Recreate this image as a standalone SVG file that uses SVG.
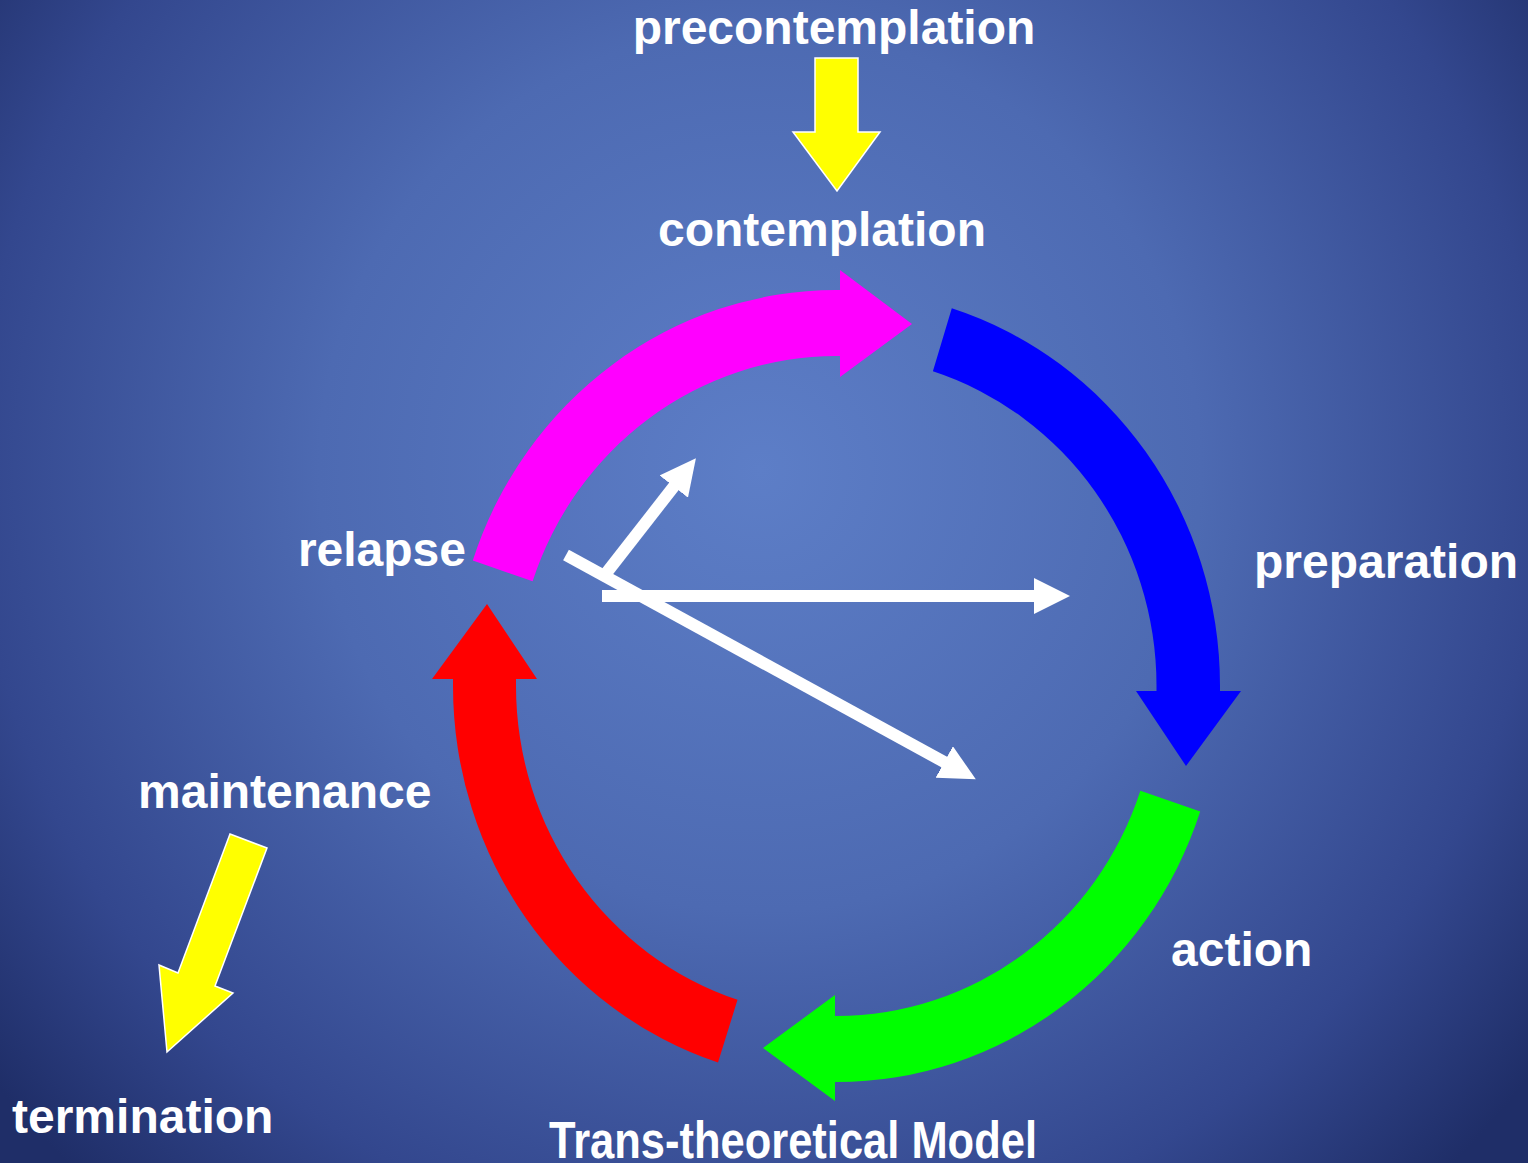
<svg xmlns="http://www.w3.org/2000/svg" width="1528" height="1163" viewBox="0 0 1528 1163">
  <defs>
    <radialGradient id="bg" cx="760" cy="470" r="980" gradientUnits="userSpaceOnUse">
      <stop offset="0" stop-color="#5d7ec7"/>
      <stop offset="0.45" stop-color="#4d6ab2"/>
      <stop offset="0.8" stop-color="#33478e"/>
      <stop offset="1" stop-color="#1f2e68"/>
    </radialGradient>
    <marker id="wh" viewBox="0 0 36 36" markerWidth="36" markerHeight="36" markerUnits="userSpaceOnUse" refX="2" refY="18" orient="auto">
      <path d="M0,0 L36,18 L0,36 z" fill="#ffffff"/>
    </marker>
    <style>
      .lbl { font-family: "Liberation Sans", Arial, sans-serif; font-weight: bold; font-size: 48px; fill: #ffffff; }
      .title { font-family: "Liberation Sans", Arial, sans-serif; font-weight: bold; font-size: 52px; fill: #ffffff; }
      .wline { stroke: #ffffff; stroke-width: 12; fill: none; marker-end: url(#wh); }
      .yarrow { fill: #ffff00; stroke: #ffffff; stroke-width: 1.5; stroke-linejoin: miter; }
    </style>
  </defs>
  <rect x="0" y="0" width="1528" height="1163" fill="url(#bg)"/>

  <g id="cycle">
    <path id="arc-relapse-contemplation" d="M 472.8 560.4 A 383.5 396 0 0 1 836.5 290 L 840 290 L 840 270 L 912 324 L 840 377 L 840 356 L 836.5 356 A 320.5 330 0 0 0 532.6 581.3 Z" fill="#ff00ff"/>
    <path id="arc-contemplation-preparation" d="M 951.8 308.3 A 383.5 396 0 0 1 1220 686 L 1220 691 L 1241 691 L 1186 766 L 1136 691 L 1156.5 691 L 1156.5 686 A 320.5 330 0 0 0 932.9 371.3 Z" fill="#0000ff"/>
    <path id="arc-action-bottom" d="M 1200.2 811.6 A 383.5 396 0 0 1 836.5 1082 L 835 1082 L 835 1101 L 763 1048 L 835 995 L 835 1016 L 836.5 1016 A 320.5 330 0 0 0 1140.4 790.7 Z" fill="#00ff00"/>
    <path id="arc-maintenance-relapse" d="M 718 1062.6 A 383.5 396 0 0 1 453 686 L 453 679 L 432 679 L 487 604 L 537 679 L 516 679 L 516 686 A 320.5 330 0 0 0 737.5 999.8 Z" fill="#ff0000"/>
  </g>

  <g id="connectors">
    <line class="wline" x1="566" y1="555" x2="946" y2="763"/>
    <line class="wline" x1="602" y1="596" x2="1036" y2="596"/>
    <line class="wline" x1="604" y1="576" x2="675" y2="485"/>
    <polygon class="yarrow" points="815,58 858,58 858,132 880,132 837,191 793,132 815,132"/>
    <polygon class="yarrow" points="230,834 267,848 215,986 233,993 167,1052 159,965 178,973"/>
  </g>

  <g id="node-precontemplation"><text class="lbl" x="834" y="44" text-anchor="middle">precontemplation</text></g>
  <g id="node-contemplation"><text class="lbl" x="822" y="246" text-anchor="middle">contemplation</text></g>
  <g id="node-relapse"><text class="lbl" x="466" y="566" text-anchor="end">relapse</text></g>
  <g id="node-preparation"><text class="lbl" x="1254" y="578">preparation</text></g>
  <g id="node-maintenance"><text class="lbl" x="138" y="808">maintenance</text></g>
  <g id="node-action"><text class="lbl" x="1171" y="966">action</text></g>
  <g id="node-termination"><text class="lbl" x="12" y="1133">termination</text></g>
  <g id="title"><text class="title" x="549" y="1158" textLength="488" lengthAdjust="spacingAndGlyphs">Trans-theoretical Model</text></g>
</svg>
